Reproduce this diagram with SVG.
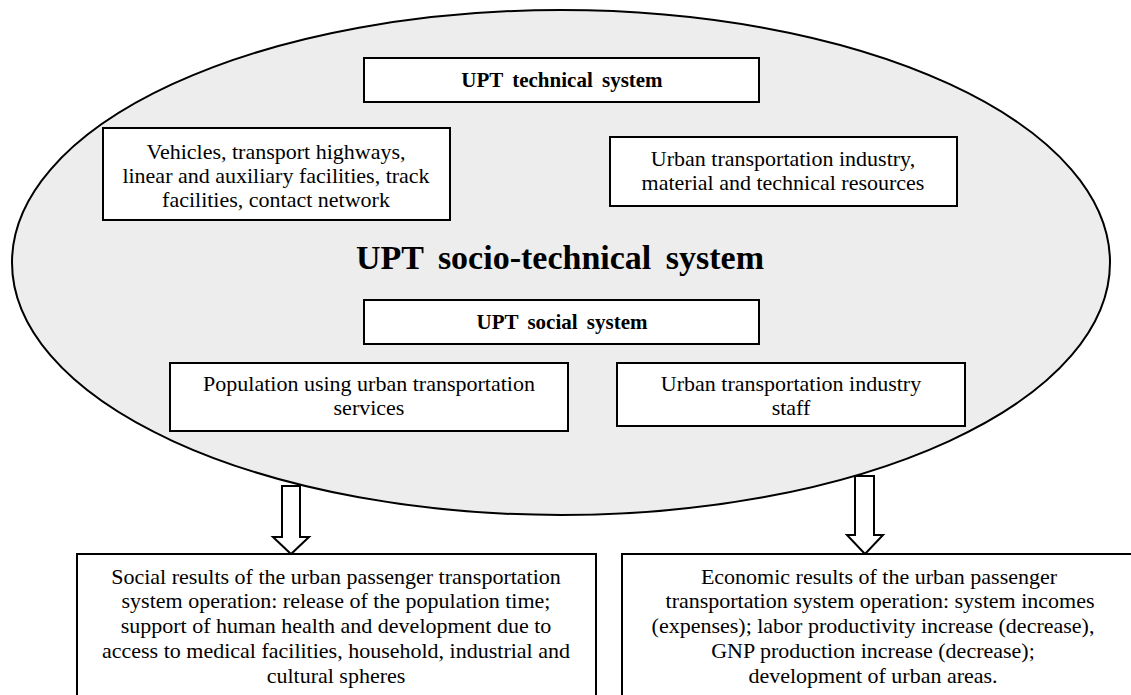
<svg xmlns="http://www.w3.org/2000/svg" width="1131" height="695" viewBox="0 0 1131 695">
<style>
  text { font-family: "Liberation Serif", "Times New Roman", serif; fill: #000; text-anchor: middle; }
  .t { font-size: 22px; }
  .b { font-size: 21px; font-weight: bold; word-spacing: 4px; }
  .big { font-size: 34px; font-weight: bold; word-spacing: 6px; }
  .box { fill: #fff; stroke: #000; stroke-width: 2; }
  .arrow { fill: #fff; stroke: #000; stroke-width: 2; stroke-linejoin: miter; }
</style>
<rect width="1131" height="695" fill="#fff"/>
<g id="socio-technical-system">
  <ellipse cx="561" cy="262.5" rx="549" ry="252.5" fill="#ededed" stroke="#000" stroke-width="2"/>
  <text class="big" x="560" y="269">UPT socio-technical system</text>
</g>
<g id="technical-system">
  <rect class="box" x="364" y="58" width="395" height="44"/>
  <text class="b" x="562" y="87">UPT technical system</text>
</g>
<g id="vehicles">
  <rect class="box" x="103" y="128" width="347" height="92"/>
  <text class="t" x="276" y="159">Vehicles, transport highways,</text>
  <text class="t" x="276" y="183">linear and auxiliary facilities, track</text>
  <text class="t" x="276" y="207">facilities, contact network</text>
</g>
<g id="industry-resources">
  <rect class="box" x="610" y="137" width="347" height="69"/>
  <text class="t" x="783" y="166">Urban transportation industry,</text>
  <text class="t" x="783" y="190">material and technical resources</text>
</g>
<g id="social-system">
  <rect class="box" x="364" y="300" width="395" height="44"/>
  <text class="b" x="562" y="329">UPT social system</text>
</g>
<g id="population">
  <rect class="box" x="170" y="363" width="398" height="68"/>
  <text class="t" x="369" y="391">Population using urban transportation</text>
  <text class="t" x="369" y="415">services</text>
</g>
<g id="staff">
  <rect class="box" x="617" y="363" width="348" height="63"/>
  <text class="t" x="791" y="391">Urban transportation industry</text>
  <text class="t" x="791" y="415">staff</text>
</g>
<g id="connectors">
  <polygon class="arrow" points="282,486 300,486 300,537 309,537 291,554 273,537 282,537"/>
  <polygon class="arrow" points="855,476 874,476 874,535 883,535 865,554 847,535 855,535"/>
</g>
<g id="social-results">
  <rect class="box" x="77" y="554" width="519" height="150"/>
  <text class="t" x="336" y="584">Social results of the urban passenger transportation</text>
  <text class="t" x="336" y="608">system operation: release of the population time;</text>
  <text class="t" x="336" y="633">support of human health and development due to</text>
  <text class="t" x="336" y="658">access to medical facilities, household, industrial and</text>
  <text class="t" x="336" y="683">cultural spheres</text>
</g>
<g id="economic-results">
  <rect class="box" x="622" y="554" width="520" height="150"/>
  <text class="t" x="879" y="584">Economic results of the urban passenger</text>
  <text class="t" x="880" y="608">transportation system operation: system incomes</text>
  <text class="t" x="873" y="633">(expenses); labor productivity increase (decrease),</text>
  <text class="t" x="873" y="658">GNP production increase (decrease);</text>
  <text class="t" x="873" y="683">development of urban areas.</text>
</g>
</svg>
